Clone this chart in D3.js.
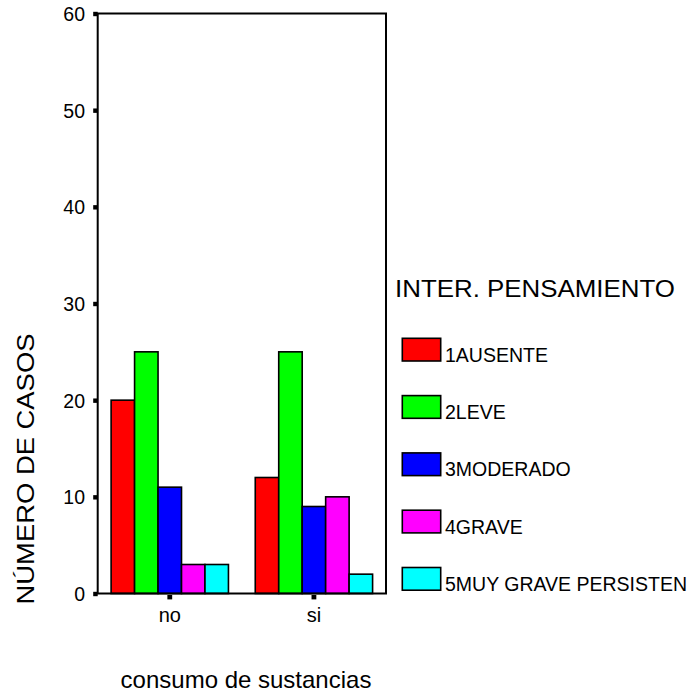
<!DOCTYPE html>
<html>
<head>
<meta charset="utf-8">
<script src="https://cdn.jsdelivr.net/npm/d3@7"></script>
<style>
  html, body { margin: 0; padding: 0; background: #fff; }
  text { font-family: Arial, "Liberation Sans", Helvetica, sans-serif; fill: #000; }
</style>
</head>
<body>
<svg id="chart" width="695" height="697"></svg>
<script>
// Groups on the x axis
const categories = ["no", "si"];
// Legend series (INTER. PENSAMIENTO levels)
const seriesNames = ["1AUSENTE", "2LEVE", "3MODERADO", "4GRAVE", "5MUY GRAVE PERSISTEN"];
const seriesColors = ["#ff0000", "#00ff00", "#0000ff", "#ff00ff", "#00ffff"];
// Case counts per series, one entry per category
const ausente   = [20, 12];
const leve      = [25, 25];
const moderado  = [11, 9];
const grave     = [3, 10];
const muyGrave  = [3, 2];
const yTicks = [0, 10, 20, 30, 40, 50, 60];

const seriesValues = [ausente, leve, moderado, grave, muyGrave];

const svg = d3.select("#chart");
const plot = { left: 97.7, right: 386, top: 13.5, bottom: 593.5 };

const x = d3.scaleBand()
  .domain(categories)
  .range([plot.left, plot.right])
  .paddingInner(0.186)
  .paddingOuter(0.093);

const xSub = d3.scaleBand()
  .domain(seriesNames)
  .range([0, x.bandwidth()]);

const y = d3.scaleLinear()
  .domain([0, 60])
  .range([plot.bottom, plot.top]);

// Bars
const rows = [];
categories.forEach((c, ci) => {
  seriesNames.forEach((s, si) => {
    rows.push({ cat: c, series: s, color: seriesColors[si], value: seriesValues[si][ci] });
  });
});

svg.append("g").selectAll("rect")
  .data(rows)
  .join("rect")
  .attr("x", d => x(d.cat) + xSub(d.series))
  .attr("y", d => y(d.value))
  .attr("width", xSub.bandwidth())
  .attr("height", d => y(0) - y(d.value))
  .attr("fill", d => d.color)
  .attr("stroke", "#000")
  .attr("stroke-width", 1.6);

// Frame
svg.append("rect")
  .attr("x", plot.left)
  .attr("y", plot.top)
  .attr("width", plot.right - plot.left)
  .attr("height", plot.bottom - plot.top)
  .attr("fill", "none")
  .attr("stroke", "#000")
  .attr("stroke-width", 2);

// Y axis: square tick marks and labels
const yAxis = d3.axisLeft(y).tickValues(yTicks).tickSize(0).tickPadding(12.7);
const gy = svg.append("g").attr("transform", `translate(${plot.left},0)`).call(yAxis);
gy.select(".domain").remove();
gy.selectAll(".tick text")
  .style("font-size", "19.5px")
  .attr("font-family", null)
  .attr("dy", "0.36em");
gy.selectAll(".tick").append("rect")
  .attr("x", -4.5).attr("y", -2.2).attr("width", 4.5).attr("height", 4.4)
  .attr("fill", "#000");

// X axis
const xAxis = d3.axisBottom(x).tickSize(0).tickPadding(14.5);
const gx = svg.append("g").attr("transform", `translate(0,${plot.bottom})`).call(xAxis);
gx.select(".domain").remove();
gx.selectAll(".tick text")
  .style("font-size", "20px")
  .attr("font-family", null)
  .attr("dy", "0.71em");
gx.selectAll(".tick").append("rect")
  .attr("x", -2.4).attr("y", 1.5).attr("width", 4.8).attr("height", 4.4)
  .attr("fill", "#000");

// Axis titles
svg.append("text")
  .attr("transform", "translate(34,469) rotate(-90)")
  .attr("text-anchor", "middle")
  .attr("textLength", 271)
  .attr("lengthAdjust", "spacingAndGlyphs")
  .style("font-size", "24px")
  .text("NÚMERO DE CASOS");

svg.append("text")
  .attr("x", 246)
  .attr("y", 688)
  .attr("text-anchor", "middle")
  .style("font-size", "24px")
  .text("consumo de sustancias");

// Legend
svg.append("text")
  .attr("x", 395)
  .attr("y", 296.5)
  .attr("textLength", 280)
  .attr("lengthAdjust", "spacingAndGlyphs")
  .style("font-size", "24px")
  .text("INTER. PENSAMIENTO");

const legend = svg.append("g").selectAll("g")
  .data(seriesNames)
  .join("g")
  .attr("transform", (d, i) => `translate(402.3,${338.3 + i * 57.3})`);

legend.append("rect")
  .attr("width", 38.4)
  .attr("height", 22.7)
  .attr("fill", (d, i) => seriesColors[i])
  .attr("stroke", "#000")
  .attr("stroke-width", 1.6);

legend.append("text")
  .attr("x", 42.7)
  .attr("y", 23.4)
  .style("font-size", "19.5px")
  .text(d => d);
</script>
</body>
</html>
